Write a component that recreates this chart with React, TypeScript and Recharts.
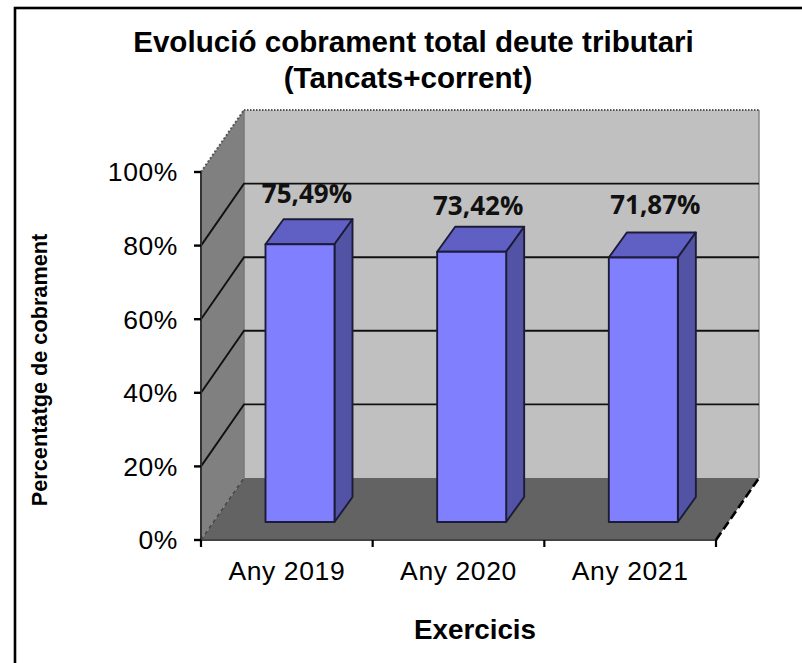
import React from "react";
import { BarChart, Bar, XAxis, YAxis, Customized, LabelList } from "recharts";

const categories = ["Any 2019", "Any 2020", "Any 2021"];
const cobrament = [75.49, 73.42, 71.87];
const valueLabels = ["75,49%", "73,42%", "71,87%"];
const yTicks = [0, 20, 40, 60, 80, 100];

const W = 802, H = 663;
const PLOT = { left: 201, right: 716, top: 172, bottom: 540 };
const WALL = { dx: 43, dy: -62 };
const BAR_SHIFT = { dx: 13.5, dy: -18 };
const BAR_DEPTH = { dx: 18, dy: -25 };
const LABEL_DX = [7, 6.5, 12];
const LABEL_DY = [-48, -44, -50];
const SANS = "'Liberation Sans', Arial, sans-serif";
const LABEL_FONT = "'Open Sans', sans-serif";

const chartData = categories.map((c, i) => ({ name: c, value: cobrament[i], label: valueLabels[i] }));

const yOf = (v: number) => PLOT.bottom - ((PLOT.bottom - PLOT.top) * v) / 100;
const pts = (p: number[][]) => p.map((q) => q.join(",")).join(" ");

function Walls() {
  const { left: l, right: r, top: t, bottom: b } = PLOT;
  const { dx, dy } = WALL;
  const stepX = (r - l) / categories.length;
  const xTicks = [0, 1, 2, 3].map((i) => l + stepX * i);
  return (
    <g>
      <rect x={15} y={8} width={W + 20} height={H + 20} fill="#fff" stroke="#000" strokeWidth={2.6} />
      <text x={413.5} y={52} textAnchor="middle" fontFamily={SANS} fontWeight="bold" fontSize={29.6} fill="#000">
        Evolució cobrament total deute tributari
      </text>
      <text x={408} y={88} textAnchor="middle" fontFamily={SANS} fontWeight="bold" fontSize={29.6} fill="#000">
        (Tancats+corrent)
      </text>
      <text
        transform="translate(47,370) rotate(-90)"
        textAnchor="middle"
        fontFamily={SANS}
        fontWeight="bold"
        fontSize={21.7}
        fill="#000"
      >
        Percentatge de cobrament
      </text>
      <text x={475} y={639} textAnchor="middle" fontFamily={SANS} fontWeight="bold" fontSize={27.8} fill="#000">
        Exercicis
      </text>

      <polygon points={pts([[l, t], [l + dx, t + dy], [l + dx, b + dy], [l, b]])} fill="#808080" />
      <rect x={l + dx} y={t + dy} width={r - l} height={b - t} fill="#C0C0C0" />
      <polygon points={pts([[l, b], [r, b], [r + dx, b + dy], [l + dx, b + dy]])} fill="#636363" />
      <line x1={l + dx} y1={t + dy} x2={l + dx} y2={b + dy} stroke="#777" strokeWidth={1.5} />
      <line x1={r + dx} y1={t + dy} x2={r + dx} y2={b + dy} stroke="#8a8a8a" strokeWidth={1.5} />
      <line x1={l + dx} y1={t + dy} x2={r + dx} y2={t + dy} stroke="#555" strokeWidth={2.2} strokeDasharray="1.5 1.5" />
      <line x1={l} y1={t} x2={l + dx} y2={t + dy} stroke="#555" strokeWidth={2} strokeDasharray="2 2" />
      <line x1={l} y1={b} x2={l + dx} y2={b + dy} stroke="#4a4a4a" strokeWidth={1.6} strokeDasharray="4 3" />
      {yTicks.filter((v) => v > 0 && v < 100).map((v) => (
        <polyline
          key={v}
          points={pts([[l, yOf(v)], [l + dx, yOf(v) + dy], [r + dx, yOf(v) + dy]])}
          fill="none"
          stroke="#111"
          strokeWidth={1.9}
        />
      ))}
      <line x1={l} y1={b} x2={r} y2={b} stroke="#444" strokeWidth={2} />
      {xTicks.map((x) => (
        <line key={x} x1={x} y1={b} x2={x} y2={b + 7} stroke="#000" strokeWidth={2.2} />
      ))}
      <line x1={r} y1={b} x2={r + dx} y2={b + dy} stroke="#000" strokeWidth={2.6} strokeDasharray="9 4" />
    </g>
  );
}

function Bar3D(props: any) {
  const { x, y, width, height } = props;
  const X = x + BAR_SHIFT.dx;
  const Y = y + BAR_SHIFT.dy;
  const { dx, dy } = BAR_DEPTH;
  const edge = "#1c1c38";
  return (
    <g stroke={edge} strokeWidth={1.9} strokeLinejoin="round">
      <polygon
        points={pts([[X, Y], [X + dx, Y + dy], [X + width + dx, Y + dy], [X + width, Y]])}
        fill="#6060C4"
      />
      <polygon
        points={pts([[X + width, Y], [X + width + dx, Y + dy], [X + width + dx, Y + height + dy], [X + width, Y + height]])}
        fill="#5353A6"
      />
      <rect x={X} y={Y} width={width} height={height} fill="#8080FF" />
    </g>
  );
}

function ValueLabel(props: any) {
  const { x, y, width, index } = props;
  return (
    <text
      x={x + width / 2 + BAR_SHIFT.dx + LABEL_DX[index]}
      y={y + BAR_SHIFT.dy + LABEL_DY[index]}
      textAnchor="middle"
      dominantBaseline="middle"
      fontFamily={LABEL_FONT}
      fontWeight="bold"
      fontSize={26}
      fill="#111"
    >
      {valueLabels[index]}
    </text>
  );
}

export default function App() {
  return (
    <div style={{ position: "absolute", left: 0, top: 0, width: W, height: H, overflow: "hidden" }}>
      <BarChart
        width={W}
        height={H}
        data={chartData}
        margin={{ top: PLOT.top, right: W - PLOT.right, bottom: H - PLOT.bottom - 60, left: 0 }}
        barSize={69}
      >
        <Customized component={Walls} />
        <XAxis
          dataKey="name"
          height={60}
          axisLine={false}
          tickLine={false}
          tickMargin={15}
          interval={0}
          tick={{ fontFamily: SANS, fontSize: 26.5, letterSpacing: 0.6, fill: "#000" }}
        />
        <YAxis
          width={PLOT.left}
          domain={[0, 100]}
          ticks={yTicks}
          interval={0}
          tickFormatter={(v: number) => `${v}%`}
          tickSize={7}
          tickMargin={16}
          tick={{ fontFamily: SANS, fontSize: 26.5, letterSpacing: 0.6, fill: "#000" }}
          axisLine={{ stroke: "#333", strokeWidth: 2 }}
          tickLine={{ stroke: "#000", strokeWidth: 2.4 }}
        />
        <Bar dataKey="value" isAnimationActive={false} shape={<Bar3D />}>
          <LabelList dataKey="label" content={<ValueLabel />} />
        </Bar>
      </BarChart>
    </div>
  );
}
